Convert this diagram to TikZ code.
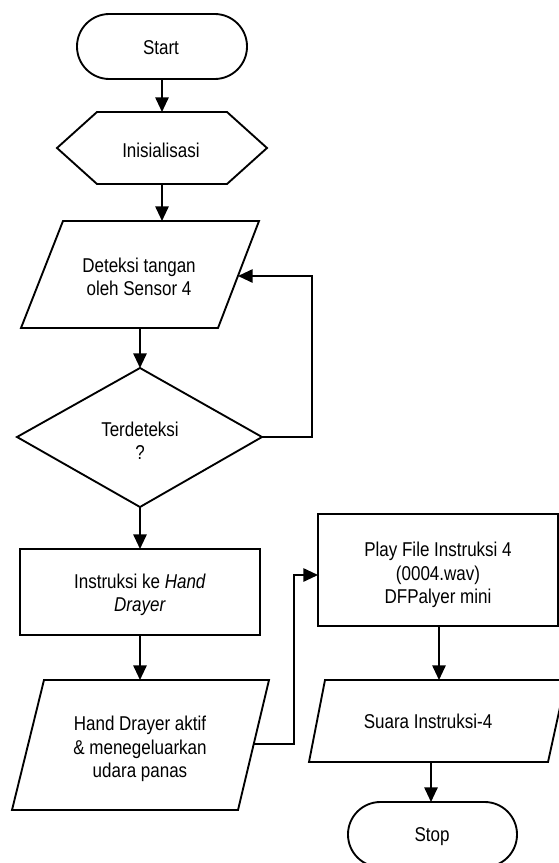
\documentclass[tikz,border=0pt]{standalone}
\usepackage{fontspec}
\setmainfont[FakeStretch=0.85]{Liberation Sans}
\usetikzlibrary{arrows.meta}
\begin{document}
\begin{tikzpicture}[x=0.75pt,y=-0.75pt,
  outline/.style={draw=black,line width=1.4pt,line join=miter},
  txt/.style={font=\fontsize{15pt}{17.5pt}\selectfont,align=center,inner sep=0pt},
  conn/.style={draw=black,line width=1.4pt,-{Triangle[length=11pt,width=10pt]}}]
\useasboundingbox (0,0) rectangle (559,863);
\clip (0,0) rectangle (559,863);
\fill[white] (0,0) rectangle (559,863);

% shapes
\draw[outline,rounded corners=24.3pt] (77,14) rectangle (247,79);
\draw[outline] (97,112) -- (227,112) -- (267,148) -- (227,184) -- (97,184) -- (57,148) -- cycle;
\draw[outline] (63,221) -- (259,221) -- (218,328) -- (21,328) -- cycle;
\draw[outline] (140,368) -- (262,437) -- (140,507) -- (17,437) -- cycle;
\draw[outline] (20,549) rectangle (260,635);
\draw[outline] (44,680) -- (269,680) -- (238,810) -- (12,810) -- cycle;
\draw[outline] (318,514) rectangle (558,626);
\draw[outline] (325,680) -- (566,680) -- (548,762) -- (309,762) -- cycle;
\draw[outline,rounded corners=24.3pt] (348,802) rectangle (517,867);

% text nodes
\node[txt] (start) at (161,48) {Start};
\node[txt] (init) at (161,150) {Inisialisasi};
\node[txt] (detect) at (139,277) {Deteksi tangan\\oleh Sensor 4};
\node[txt] (decide) at (140,441) {Terdeteksi\\?};
\node[txt] (instr) at (140,595) {Instruksi ke \textit{Hand}\\\textit{Drayer}};
\node[txt] (dryer) at (140,749) {Hand Drayer aktif\\\& menegeluarkan\\udara panas};
\node[txt] (play) at (438,575) {Play File Instruksi 4\\(0004.wav)\\DFPalyer mini};
\node[txt] (sound) at (428,721) {Suara Instruksi-4};
\node[txt] (stop) at (432,837) {Stop};

% ports
\coordinate (start-s) at (162,79);
\coordinate (init-n) at (162,112);
\coordinate (init-s) at (162,184);
\coordinate (detect-n) at (162,221);
\coordinate (detect-s) at (140,328);
\coordinate (detect-e) at (238,276);
\coordinate (decide-n) at (140,368);
\coordinate (decide-e) at (262,437);
\coordinate (decide-s) at (140,507);
\coordinate (instr-n) at (140,549);
\coordinate (instr-s) at (140,635);
\coordinate (dryer-n) at (140,680);
\coordinate (dryer-e) at (253.5,744);
\coordinate (play-w) at (318,575);
\coordinate (play-s) at (439,626);
\coordinate (sound-n) at (439,680);
\coordinate (sound-s) at (431,762);
\coordinate (stop-n) at (431,802);

% connectors
\draw[conn] (start-s) -- (init-n);
\draw[conn] (init-s) -- (detect-n);
\draw[conn] (detect-s) -- (decide-n);
\draw[conn] (decide-e) -- (312,437) |- (detect-e);
\draw[conn] (decide-s) -- (instr-n);
\draw[conn] (instr-s) -- (dryer-n);
\draw[conn] (dryer-e) -- (294,744) |- (play-w);
\draw[conn] (play-s) -- (sound-n);
\draw[conn] (sound-s) -- (stop-n);
\end{tikzpicture}
\end{document}
